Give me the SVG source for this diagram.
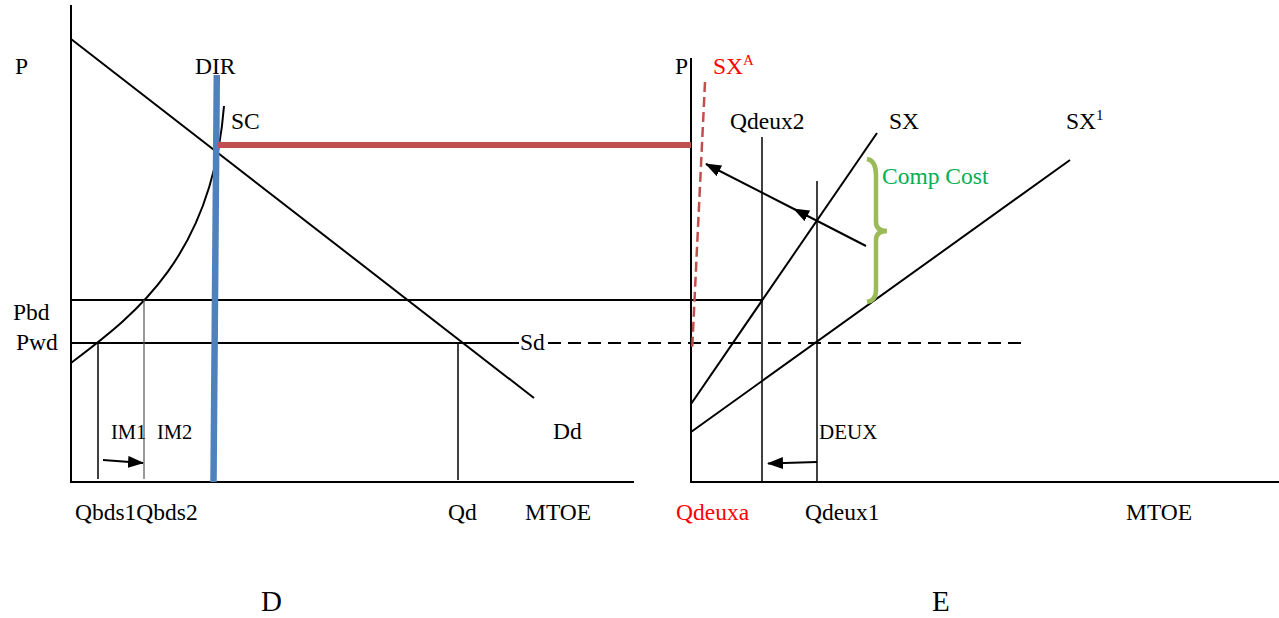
<svg xmlns="http://www.w3.org/2000/svg" width="1279" height="618" viewBox="0 0 1279 618">
<style>
text{font-family:"Liberation Serif","Times New Roman",serif;font-size:23.5px;fill:#000}
.sm{font-size:20.5px}
.big{font-size:29px}
.red{fill:#FF0000}
.grn{fill:#00B050}
.ln{stroke:#000;stroke-width:2;fill:none}
.thin{stroke:#000;stroke-width:1.5;fill:none}
</style>
<defs>
<marker id="ah" markerWidth="16" markerHeight="12" refX="15" refY="6" orient="auto" markerUnits="userSpaceOnUse">
<path d="M0,0 L16,6 L0,12 Z" fill="#000"/>
</marker>
</defs>
<rect width="1279" height="618" fill="#fff"/>

<g id="panel-d">
<line class="ln" x1="71" y1="5" x2="71" y2="483"/>
<line class="ln" x1="70" y1="482" x2="634" y2="482"/>
<line class="ln" x1="71" y1="39" x2="534" y2="398"/>
<path class="ln" d="M71,363 C130,318 212,260 224,106"/>
<line class="ln" x1="71" y1="300" x2="762" y2="300"/>
<line class="ln" x1="71" y1="343" x2="519" y2="343"/>
<line class="thin" x1="98" y1="343" x2="98" y2="479"/>
<line x1="144" y1="300" x2="144" y2="479" stroke="#555" stroke-width="1.2"/>
<line class="thin" x1="458" y1="343" x2="458" y2="480"/>
<line x1="216.8" y1="75" x2="213.5" y2="482" stroke="#4F81BD" stroke-width="6.5"/>
</g>

<g id="panel-e">
<line class="ln" x1="691" y1="58" x2="691" y2="483"/>
<line class="ln" x1="690" y1="482" x2="1279" y2="482"/>
<line class="thin" x1="762" y1="137" x2="762" y2="481"/>
<line class="thin" x1="817" y1="181" x2="817" y2="482"/>
<line class="ln" x1="691" y1="404" x2="877" y2="133"/>
<line class="ln" x1="691" y1="432" x2="1070" y2="160"/>
<line x1="548" y1="343" x2="1022" y2="343" stroke="#000" stroke-width="2" stroke-dasharray="13,7"/>
<line x1="705" y1="82" x2="692" y2="352" stroke="#C0504D" stroke-width="2.5" stroke-dasharray="10,5"/>
<path d="M867,159 C873,160 876,165 876,175 L876,222 C876,228 880,231 887,231 C880,231 876,234 876,240 L876,290 C876,297 873,301 867,302" fill="none" stroke="#9BBB59" stroke-width="4.5"/>
</g>

<g id="connectors">
<line x1="218" y1="145" x2="691" y2="145" stroke="#C0504D" stroke-width="6"/>
<line class="ln" x1="103" y1="460" x2="143" y2="463" marker-end="url(#ah)"/>
<line class="ln" x1="817" y1="462" x2="768" y2="463.5" marker-end="url(#ah)"/>
<path class="ln" d="M866,246 L794,209 L706,164" marker-mid="url(#ah)" marker-end="url(#ah)"/>
</g>

<g id="labels-d">
<text x="15" y="74">P</text>
<text x="195" y="74">DIR</text>
<text x="231" y="129">SC</text>
<text x="13" y="320">Pbd</text>
<text x="16" y="350">Pwd</text>
<text class="sm" x="111" y="439">IM1</text>
<text class="sm" x="157" y="439">IM2</text>
<text x="520" y="350">Sd</text>
<text x="553" y="439">Dd</text>
<text x="75" y="520">Qbds1Qbds2</text>
<text x="448" y="520">Qd</text>
<text x="525" y="520">MTOE</text>
<text class="big" x="261" y="611">D</text>
</g>

<g id="labels-e">
<text x="675" y="74">P</text>
<text class="red" x="713" y="74">SX<tspan font-size="15" dy="-9">A</tspan></text>
<text x="730" y="129">Qdeux2</text>
<text x="889" y="129">SX</text>
<text x="1066" y="129">SX<tspan font-size="15" dy="-9">1</tspan></text>
<text class="grn" x="882" y="184">Comp Cost</text>
<text class="sm" x="819" y="439" style="font-size:21px">DEUX</text>
<text class="red" x="676" y="520">Qdeuxa</text>
<text x="805" y="520">Qdeux1</text>
<text x="1126" y="520">MTOE</text>
<text class="big" x="932" y="611">E</text>
</g>
</svg>
